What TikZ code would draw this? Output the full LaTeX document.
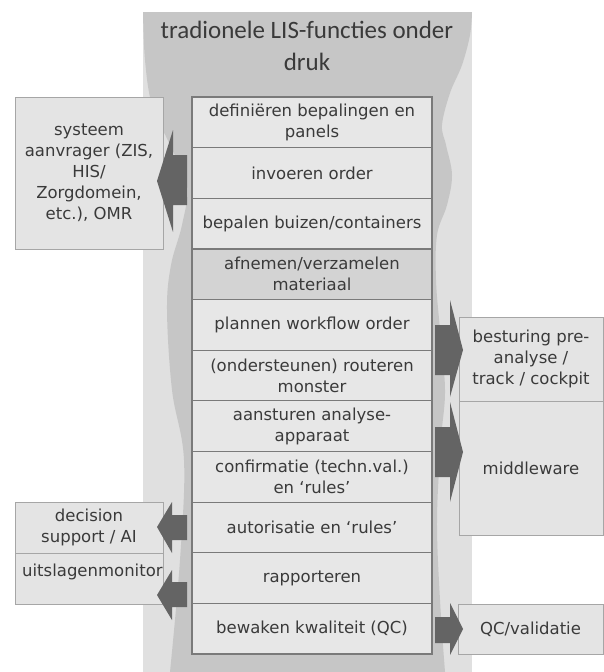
\documentclass[tikz,border=0pt]{standalone}
\usepackage{fontspec}
\setmainfont{DejaVu Sans}
\newfontfamily\titlefont{Carlito}
\definecolor{outerbg}{HTML}{E0E0E0}
\definecolor{innerbg}{HTML}{C6C6C6}
\definecolor{boxfill}{HTML}{E7E7E7}
\definecolor{boxdark}{HTML}{D3D3D3}
\definecolor{boxline}{HTML}{7A7A7A}
\definecolor{sidefill}{HTML}{E4E4E4}
\definecolor{sideline}{HTML}{A6A6A6}
\definecolor{textgray}{HTML}{3A3A3A}
\definecolor{arrowgray}{HTML}{646464}
\begin{document}
\begin{tikzpicture}[x=1pt,y=-1pt,
  txt/.style={text=textgray, font=\fontsize{16.5}{21}\selectfont, align=center},
  mainbox/.style={txt, draw=boxline, line width=1.2pt, fill=boxfill,
    minimum width=240pt, minimum height=50.64pt, inner sep=0pt},
  sidebox/.style={txt, draw=sideline, line width=0.8pt, fill=sidefill, inner sep=0pt},
  blockarrow/.style={fill=arrowgray}]
\useasboundingbox (0,0) rectangle (604,672);
% background
\fill[outerbg] (143,12) rectangle (472,672);
\fill[innerbg] (143,12) -- plot[smooth, tension=0.6] coordinates {(143,12) (145,60) (152,105) (170,145) (187,185) (182,225) (171,265) (167,310) (172,390) (184,460) (180,560) (170,672)}
  -- (445,672) -- plot[smooth, tension=0.6] coordinates {(445,672) (440,600) (437,520) (441,440) (445,390) (440,330) (436,280) (437,235) (447,205) (452,175) (446,145) (442,125) (450,93) (462,65) (470,35) (472,12)} -- cycle;
% title
\node[text=textgray, font=\titlefont\fontsize{25}{32}\selectfont, align=center, anchor=base] (title) at (307,70) {tradionele LIS-functies onder\\druk};
% main column
\node[mainbox] (b1) at (312,122.3) {definiëren bepalingen en\\panels};
\node[mainbox] (b2) at (312,173.0) {invoeren order};
\node[mainbox] (b3) at (312,223.6) {bepalen buizen/containers};
\node[mainbox, fill=boxdark] (b4) at (312,274.3) {afnemen/verzamelen\\materiaal};
\node[mainbox] (b5) at (312,324.9) {plannen workflow order};
\node[mainbox] (b6) at (312,375.5) {(ondersteunen) routeren\\monster};
\node[mainbox] (b7) at (312,426.2) {aansturen analyse-\\apparaat};
\node[mainbox] (b8) at (312,476.8) {confirmatie (techn.val.)\\en ‘rules’};
\node[mainbox] (b9) at (312,527.5) {autorisatie en ‘rules’};
\node[mainbox] (b10) at (312,578.1) {rapporteren};
\node[mainbox] (b11) at (312,628.7) {bewaken kwaliteit (QC)};
% left boxes
\node[sidebox, minimum width=148pt, minimum height=152pt] (sys) at (89,173) {systeem\\aanvrager (ZIS,\\HIS/\\Zorgdomein,\\etc.), OMR};
\node[sidebox, minimum width=148pt, minimum height=51pt] (dec) at (89,527.5) {decision\\support / AI};
\node[sidebox, minimum width=148pt, minimum height=51pt] (um) at (89,578.5) {};
\node[txt, anchor=base west, inner sep=0pt] (umt) at (22,576) {uitslagenmonitor};
% right boxes
\node[sidebox, minimum width=144pt, minimum height=84pt] (bes) at (531,359) {besturing pre-\\analyse /\\track / cockpit};
\node[sidebox, minimum width=144pt, minimum height=134pt] (mid) at (531,468) {middleware};
\node[sidebox, minimum width=145pt, minimum height=50pt] (qc) at (530.5,629) {QC/validatie};
% block arrows
\fill[blockarrow] (187,155) -- (173,155) -- (173,130) -- (157,181) -- (173,232) -- (173,205) -- (187,205) -- cycle;
\fill[blockarrow] (187,515) -- (172,515) -- (172,502) -- (157,527) -- (172,553) -- (172,540) -- (187,540) -- cycle;
\fill[blockarrow] (187,582) -- (172,582) -- (172,570) -- (157,595) -- (172,620) -- (172,607) -- (187,607) -- cycle;
\fill[blockarrow] (435,325) -- (450,325) -- (450,300) -- (463,350) -- (450,397) -- (450,375) -- (435,375) -- cycle;
\fill[blockarrow] (435,427) -- (450,427) -- (450,402) -- (463,452) -- (450,502) -- (450,477) -- (435,477) -- cycle;
\fill[blockarrow] (435,617) -- (450,617) -- (450,603) -- (463,629) -- (450,655) -- (450,643) -- (435,643) -- cycle;
\end{tikzpicture}
\end{document}
